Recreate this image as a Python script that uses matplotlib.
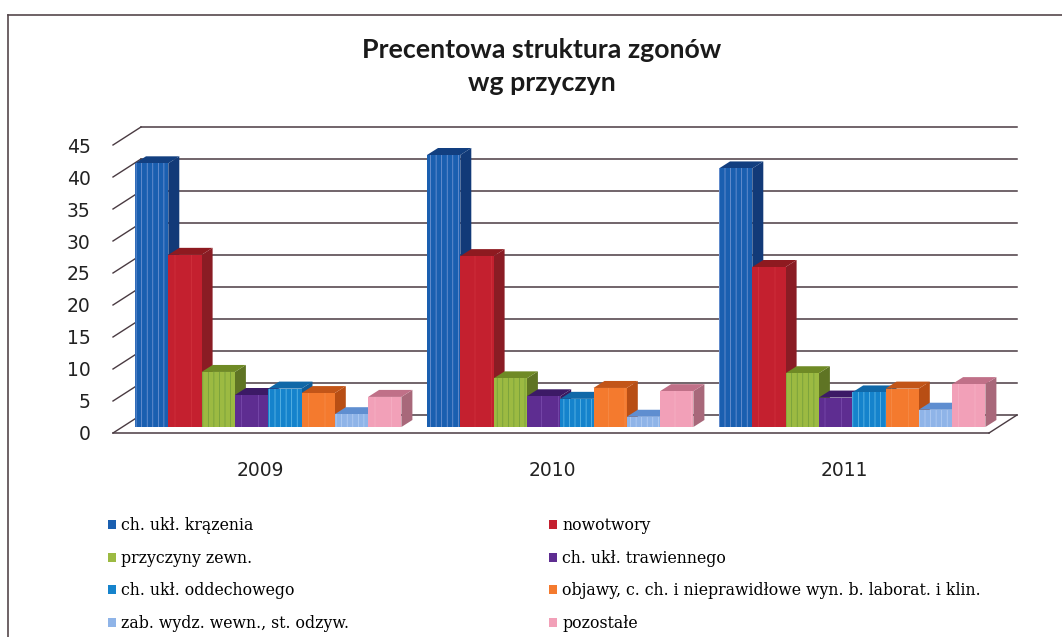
import numpy as np
import matplotlib
matplotlib.use("Agg")
import matplotlib.pyplot as plt
from matplotlib.patches import Polygon, Rectangle
from matplotlib.lines import Line2D

W, H = 1062, 637

years = ["2009", "2010", "2011"]
causes = ["ch. ukł. krązenia", "nowotwory", "przyczyny zewn.", "ch. ukł. trawiennego",
          "ch. ukł. oddechowego", "objawy, c. ch. i nieprawidłowe wyn. b. laborat. i klin.",
          "zab. wydz. wewn., st. odzyw.", "pozostałe"]
v2009 = [41.2, 26.9, 8.6, 5.0, 6.0, 5.3, 2.0, 4.7]
v2010 = [42.5, 26.7, 7.6, 4.8, 4.4, 6.1, 1.6, 5.6]
v2011 = [40.4, 25.0, 8.4, 4.6, 5.4, 6.0, 2.7, 6.7]
yticks = [0, 5, 10, 15, 20, 25, 30, 35, 40, 45]

front = ["#1a5fb0", "#c4202f", "#9cba42", "#5e2d91", "#1583cc", "#f47a2e", "#8fb4e8", "#f2a0b8"]
top = ["#123f80", "#8e1a20", "#6f8a25", "#3c1a66", "#1068a8", "#c25518", "#5f8ed0", "#c07088"]
side = ["#123a78", "#8a1c24", "#5f7424", "#3a1a60", "#0f5c98", "#b84e14", "#5c88c8", "#a8687a"]
streak = ["#7f9ed8", "#d2343e", "#6f9a3a", "#7d4fb0", "#6cc0ea", "#f68e4c", "#b8d0f4", "#f5b2c6"]


def px_x(p):
    return p / 292.0


def px_y(p):
    return p / 6.4


plt.rcParams["hatch.linewidth"] = 0.5
fig = plt.figure(figsize=(W / 100, H / 100), dpi=100)
ax = fig.add_axes([113 / W, 1 - 433 / H, 876 / W, 288 / H])
ax.set_xlim(0, 3)
ax.set_ylim(0, 45)
for s in ax.spines.values():
    s.set_visible(False)
ax.patch.set_alpha(0)

# walls: floor offset 28 px right, 18 px up
dx, dy = px_x(28), px_y(18)
grid = "#4a3b42"
for v in yticks:
    ax.plot([dx, 3 + dx], [v + dy, v + dy], color=grid, lw=1.1, clip_on=False, zorder=1)
    ax.plot([0, dx], [v, v + dy], color=grid, lw=1.0, clip_on=False, zorder=1)
ax.plot([0, 3], [0, 0], color=grid, lw=1.1, clip_on=False, zorder=1)
ax.plot([3, 3 + dx], [0, dy], color=grid, lw=1.0, clip_on=False, zorder=1)

# bars
bw = px_x(33.3)
bar_dx, bar_dy = px_x(11), px_y(7)
base = px_y(6)
for g, vals in enumerate([v2009, v2010, v2011]):
    x0 = g + px_x(22)
    for i, v in enumerate(vals):
        xl = x0 + i * bw
        xr = xl + bw
        yt = base + v
        ax.add_patch(Polygon([(xr, base), (xr + bar_dx, base + bar_dy), (xr + bar_dx, yt + bar_dy), (xr, yt)],
                             fc=side[i], ec="none", zorder=3 + i, clip_on=False))
        ax.add_patch(Polygon([(xl, yt), (xl + bar_dx, yt + bar_dy), (xr + bar_dx, yt + bar_dy), (xr, yt)],
                             fc=top[i], ec="none", zorder=3 + i, clip_on=False))
        ax.bar(xl, v, bw, bottom=base, align="edge", color=front[i], edgecolor=streak[i], linewidth=0,
               hatch="|||" if i in (0, 2, 4, 6) else "|", zorder=3 + i, clip_on=False)

ax.set_xticks([g + 0.5 + px_x(1) for g in range(3)])
ax.set_xticklabels(years, fontsize=13.5, color="#222222")
ax.set_yticks(yticks)
ax.set_yticklabels([str(v) for v in yticks], fontsize=13.5, color="#222222")
ax.tick_params(axis="both", length=0)
ax.tick_params(axis="x", pad=20)
ax.tick_params(axis="y", pad=16)

fig.text(542 / W, 1 - 50 / H, "Precentowa struktura zgonów", ha="center", va="center",
         fontsize=19.3, fontweight="bold", family="Lato", color="#1a1a1a")
fig.text(542 / W, 1 - 83 / H, "wg przyczyn", ha="center", va="center",
         fontsize=19.3, fontweight="bold", family="Lato", color="#1a1a1a")

# outer frame, top and left only
fig.add_artist(Line2D([8 / W, 1], [1 - 15 / H, 1 - 15 / H], color="#55484c", lw=1.2))
fig.add_artist(Line2D([8 / W, 8 / W], [0, 1 - 15 / H], color="#55484c", lw=1.2))

# legend fills by column, causes are listed by row
order = [0, 2, 4, 6, 1, 3, 5, 7]
handles = [Rectangle((0, 0), 1, 1, fc=front[i], ec="none") for i in order]
fig.legend(handles, [causes[i] for i in order], ncols=2, loc="lower left", bbox_to_anchor=(108 / W, 5 / H),
           frameon=False, borderpad=0, borderaxespad=0, prop={"family": "DejaVu Serif", "size": 11.3},
           handlelength=0.5, handleheight=0.5, handletextpad=0.35, labelspacing=1.0, columnspacing=12.7)

fig.savefig("out.png", dpi=100)
